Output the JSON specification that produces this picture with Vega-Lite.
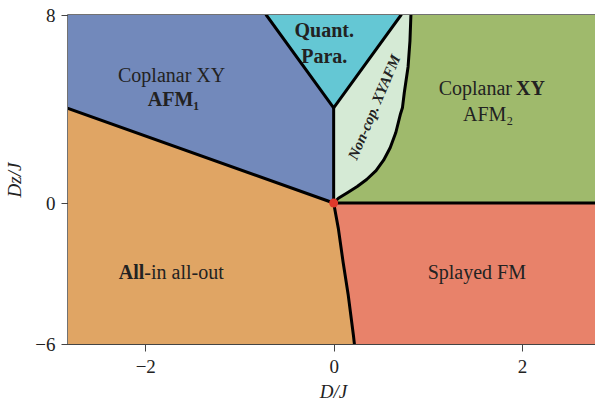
{
  "$schema": "https://vega.github.io/schema/vega-lite/v6.json",
  "width": 530,
  "height": 329,
  "autosize": {"type": "none"},
  "padding": {"left": 68, "top": 15, "right": 0, "bottom": 60},
  "background": "white",
  "config": {
    "font": "Liberation Serif",
    "view": {"stroke": "#444", "strokeWidth": 1.5},
    "axis": {
      "labelFont": "Liberation Serif",
      "titleFont": "Liberation Serif",
      "labelFontSize": 19,
      "titleFontSize": 19,
      "labelColor": "#222",
      "titleColor": "#222",
      "domainColor": "#444",
      "tickColor": "#444",
      "tickSize": 7,
      "grid": false,
      "titleFontWeight": "normal",
      "titleFontStyle": "italic"
    }
  },
  "datasets": {
    "bg": [{"x": -2.82, "x2": 2.806, "y": -6, "y2": 8}],
    "green": [{"x": 0, "x2": 2.806, "y": 0, "y2": 8}],
    "blue": [{"x": -2.82, "y": 4.02, "y2": 8}, {"x": 0, "y": 0, "y2": 8}],
    "cyan": [{"x": -0.715, "y": 8, "y2": 8}, {"x": 0, "y": 4.05, "y2": 8}, {"x": 0.715, "y": 8, "y2": 8}],
    "red": [
      {"y": 0, "x": 0, "x2": 2.806},
      {"y": -1.09, "x": 0.05, "x2": 2.806},
      {"y": -2.51, "x": 0.1, "x2": 2.806},
      {"y": -3.93, "x": 0.155, "x2": 2.806},
      {"y": -5.64, "x": 0.21, "x2": 2.806},
      {"y": -6, "x": 0.22, "x2": 2.806}
    ],
    "noncop": [
      {"y": 0, "x": 0, "x2": 0},
      {"y": 0.2, "x": 0, "x2": 0.05},
      {"y": 0.45, "x": 0, "x2": 0.15},
      {"y": 0.7, "x": 0, "x2": 0.25},
      {"y": 1.0, "x": 0, "x2": 0.35},
      {"y": 1.38, "x": 0, "x2": 0.45},
      {"y": 1.82, "x": 0, "x2": 0.53},
      {"y": 2.35, "x": 0, "x2": 0.6},
      {"y": 3.0, "x": 0, "x2": 0.66},
      {"y": 3.8, "x": 0, "x2": 0.71},
      {"y": 4.05, "x": 0, "x2": 0.73},
      {"y": 4.7, "x": 0.118, "x2": 0.75},
      {"y": 5.8, "x": 0.317, "x2": 0.79},
      {"y": 6.9, "x": 0.516, "x2": 0.81},
      {"y": 8, "x": 0.715, "x2": 0.82}
    ],
    "lines": [
      {"seg": "A", "o": 0, "x": -2.82, "y": 4.02},
      {"seg": "A", "o": 1, "x": 0, "y": 0},
      {"seg": "B", "o": 0, "x": -0.715, "y": 8},
      {"seg": "B", "o": 1, "x": 0, "y": 4.05},
      {"seg": "B", "o": 2, "x": 0.715, "y": 8},
      {"seg": "C", "o": 0, "x": 0, "y": 4.05},
      {"seg": "C", "o": 1, "x": 0, "y": 0},
      {"seg": "D", "o": 0, "x": 0, "y": 0},
      {"seg": "D", "o": 1, "x": 0.05, "y": 0.2},
      {"seg": "D", "o": 2, "x": 0.15, "y": 0.45},
      {"seg": "D", "o": 3, "x": 0.25, "y": 0.7},
      {"seg": "D", "o": 4, "x": 0.35, "y": 1.0},
      {"seg": "D", "o": 5, "x": 0.45, "y": 1.38},
      {"seg": "D", "o": 6, "x": 0.53, "y": 1.82},
      {"seg": "D", "o": 7, "x": 0.6, "y": 2.35},
      {"seg": "D", "o": 8, "x": 0.66, "y": 3.0},
      {"seg": "D", "o": 9, "x": 0.71, "y": 3.8},
      {"seg": "D", "o": 10, "x": 0.73, "y": 4.05},
      {"seg": "D", "o": 11, "x": 0.75, "y": 4.7},
      {"seg": "D", "o": 12, "x": 0.79, "y": 5.8},
      {"seg": "D", "o": 13, "x": 0.81, "y": 6.9},
      {"seg": "D", "o": 14, "x": 0.82, "y": 8},
      {"seg": "E", "o": 0, "x": 0, "y": 0},
      {"seg": "E", "o": 1, "x": 2.806, "y": 0},
      {"seg": "F", "o": 0, "x": 0, "y": 0},
      {"seg": "F", "o": 1, "x": 0.05, "y": -1.09},
      {"seg": "F", "o": 2, "x": 0.1, "y": -2.51},
      {"seg": "F", "o": 3, "x": 0.155, "y": -3.93},
      {"seg": "F", "o": 4, "x": 0.21, "y": -5.64},
      {"seg": "F", "o": 5, "x": 0.22, "y": -6}
    ],
    "origin": [{"x": 0, "y": 0}],
    "labels": [
      {"k": "nc", "t": "Coplanar XY", "x": -1.72, "y": 5.42},
      {"k": "bc", "t": "AFM₁", "x": -1.7, "y": 4.4},
      {"k": "bc", "t": "Quant.", "x": -0.1, "y": 7.3},
      {"k": "bc", "t": "Para.", "x": -0.1, "y": 6.22},
      {"k": "nr", "t": "Coplanar", "x": 1.893, "y": 4.83},
      {"k": "bl", "t": "XY", "x": 1.936, "y": 4.83},
      {"k": "nc", "t": "AFM₂", "x": 1.64, "y": 3.74},
      {"k": "br", "t": "All", "x": -2.01, "y": -2.97},
      {"k": "nl", "t": "-in all-out", "x": -2.01, "y": -2.97},
      {"k": "nc", "t": "Splayed FM", "x": 1.52, "y": -2.97},
      {"k": "rot", "t": "Non-cop. XYAFM", "x": 0.43, "y": 4.08}
    ]
  },
  "encoding": {
    "x": {
      "field": "x", "type": "quantitative",
      "scale": {"domain": [-2.82, 2.806], "nice": false, "zero": false},
      "axis": {"values": [-2, 0, 2], "title": "D/J", "labelPadding": 6, "titlePadding": 6}
    },
    "y": {
      "field": "y", "type": "quantitative",
      "scale": {"domain": [-6, 8], "nice": false, "zero": false},
      "axis": {"values": [-6, 0, 8], "title": "Dz/J", "labelPadding": 6, "titlePadding": 10}
    }
  },
  "layer": [
    {"data": {"name": "bg"}, "mark": {"type": "rect", "color": "#e0a564"}, "encoding": {"x2": {"field": "x2"}, "y2": {"field": "y2"}}},
    {"data": {"name": "green"}, "mark": {"type": "rect", "color": "#9fba6c"}, "encoding": {"x2": {"field": "x2"}, "y2": {"field": "y2"}}},
    {"data": {"name": "blue"}, "mark": {"type": "area", "color": "#7289bb", "orient": "vertical", "opacity": 1}, "encoding": {"y2": {"field": "y2"}}},
    {"data": {"name": "red"}, "mark": {"type": "area", "color": "#e8826a", "orient": "horizontal", "opacity": 1}, "encoding": {"x2": {"field": "x2"}}},
    {"data": {"name": "noncop"}, "mark": {"type": "area", "color": "#d5ead5", "orient": "horizontal", "opacity": 1}, "encoding": {"x2": {"field": "x2"}}},
    {"data": {"name": "cyan"}, "mark": {"type": "area", "color": "#64c7d4", "orient": "vertical", "opacity": 1}, "encoding": {"y2": {"field": "y2"}}},
    {"data": {"name": "lines"}, "mark": {"type": "line", "color": "#000", "strokeWidth": 3, "clip": true, "strokeCap": "round", "strokeJoin": "round"}, "encoding": {"detail": {"field": "seg"}, "order": {"field": "o", "type": "quantitative"}}},
    {"data": {"name": "origin"}, "mark": {"type": "point", "filled": true, "color": "#e0392b", "size": 80, "opacity": 1}},
    {"data": {"name": "labels"}, "transform": [{"filter": "datum.k == 'nc'"}], "mark": {"type": "text", "font": "Liberation Serif", "fontSize": 20, "color": "#222", "align": "center", "baseline": "middle"}, "encoding": {"text": {"field": "t"}}},
    {"data": {"name": "labels"}, "transform": [{"filter": "datum.k == 'bc'"}], "mark": {"type": "text", "font": "Liberation Serif", "fontSize": 20, "fontWeight": "bold", "color": "#222", "align": "center", "baseline": "middle"}, "encoding": {"text": {"field": "t"}}},
    {"data": {"name": "labels"}, "transform": [{"filter": "datum.k == 'nr'"}], "mark": {"type": "text", "font": "Liberation Serif", "fontSize": 20, "color": "#222", "align": "right", "baseline": "middle"}, "encoding": {"text": {"field": "t"}}},
    {"data": {"name": "labels"}, "transform": [{"filter": "datum.k == 'bl'"}], "mark": {"type": "text", "font": "Liberation Serif", "fontSize": 20, "fontWeight": "bold", "color": "#222", "align": "left", "baseline": "middle"}, "encoding": {"text": {"field": "t"}}},
    {"data": {"name": "labels"}, "transform": [{"filter": "datum.k == 'br'"}], "mark": {"type": "text", "font": "Liberation Serif", "fontSize": 20, "fontWeight": "bold", "color": "#222", "align": "right", "baseline": "middle"}, "encoding": {"text": {"field": "t"}}},
    {"data": {"name": "labels"}, "transform": [{"filter": "datum.k == 'nl'"}], "mark": {"type": "text", "font": "Liberation Serif", "fontSize": 20, "color": "#222", "align": "left", "baseline": "middle"}, "encoding": {"text": {"field": "t"}}},
    {"data": {"name": "labels"}, "transform": [{"filter": "datum.k == 'rot'"}], "mark": {"type": "text", "font": "Liberation Serif", "fontSize": 15, "fontWeight": "bold", "fontStyle": "italic", "color": "#222", "align": "center", "baseline": "middle", "angle": 293}, "encoding": {"text": {"field": "t"}}}
  ]
}
